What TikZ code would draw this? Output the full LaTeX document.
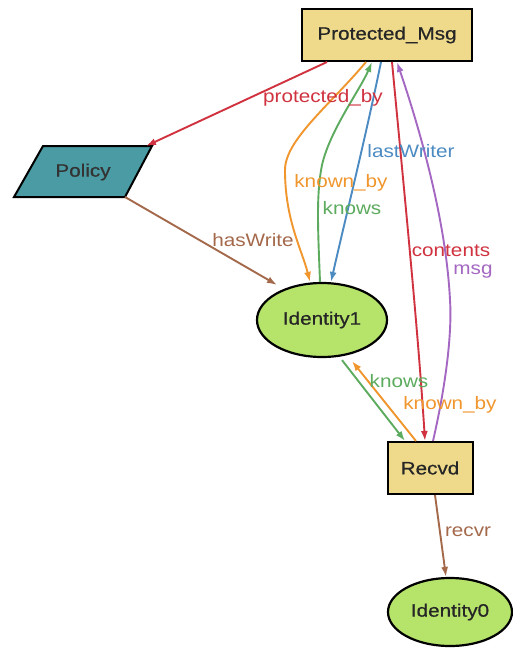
\documentclass[tikz,border=0pt]{standalone}
\usepackage{fontspec}
\setmainfont{Liberation Sans}[FakeStretch=1.15]
\newfontfamily\nodefont{Liberation Sans}[FakeStretch=1.15,FakeBold=0.6]
\usetikzlibrary{arrows.meta,shapes.geometric}
\definecolor{ered}{HTML}{D0323F}
\definecolor{eorange}{HTML}{F0962D}
\definecolor{egreen}{HTML}{5CAB5E}
\definecolor{eblue}{HTML}{4C8BC2}
\definecolor{epurple}{HTML}{A468C2}
\definecolor{ebrown}{HTML}{A4694B}
\definecolor{boxfill}{HTML}{EEDA8A}
\definecolor{polfill}{HTML}{4A9BA3}
\definecolor{idfill}{HTML}{B6E46B}
\tikzset{
  every node/.style={font=\fontsize{18}{20}\selectfont},
  nodetext/.style={font=\nodefont\fontsize{18}{20}\selectfont, text=black!85},
  recbox/.style={draw=black, line width=2pt, fill=boxfill, nodetext},
  idnode/.style={ellipse, draw=black, line width=2.2pt, fill=idfill, nodetext},
  edge/.style={line width=1.9pt, -{Latex[length=10pt,width=7pt]}},
  lbl/.style={inner sep=1pt}
}
\begin{document}
\begin{tikzpicture}[x=1pt,y=-1pt]
\useasboundingbox (0,0) rectangle (513,649);
\fill[white] (0,0) rectangle (513,649);

% nodes
\node[recbox, minimum width=170pt, minimum height=52pt] (pm) at (387,35) {Protected\_Msg};
\draw[line width=2pt, fill=polfill] (43,146) -- (152,146) -- (125,197) -- (14,197) -- cycle;
\node[nodetext, text=black!80] (policy) at (83,172) {Policy};
\coordinate (poltop) at (146,146);
\coordinate (polbot) at (125,197);
\node[idnode, minimum width=130pt, minimum height=74pt] (id1) at (322,320) {Identity1};
\node[recbox, minimum width=85pt, minimum height=52pt] (recvd) at (430,468) {Recvd};
\node[idnode, minimum width=124pt, minimum height=68pt] (id0) at (450,612) {Identity0};

% connectors
\draw[edge, ered] ([xshift=-60pt]pm.south) -- (poltop);
\draw[edge, ebrown] (polbot) -- ([xshift=-45pt,yshift=-3pt]id1.north);
\draw[edge, eorange] ([xshift=-21pt]pm.south) .. controls (330,105) and (285,140) .. (285,170)
   .. controls (285,220) and (302,250) .. ([xshift=-12pt]id1.north);
\draw[edge, egreen] ([xshift=-2pt]id1.north) .. controls (318,230) and (316,195) .. (322,165)
   .. controls (330,130) and (360,90) .. ([xshift=-15pt]pm.south);
\draw[edge, eblue] ([xshift=-6pt]pm.south) .. controls (365,140) and (345,220) .. ([xshift=9pt]id1.north);
\draw[edge, ered] ([xshift=5pt]pm.south) .. controls (405,200) and (418,330) .. ([xshift=-5pt]recvd.north);
\draw[edge, epurple] ([xshift=3pt]recvd.north) .. controls (447,380) and (452,330) .. (450,300)
   .. controls (446,220) and (420,130) .. ([xshift=10pt]pm.south);
\draw[edge, egreen] ([xshift=20pt,yshift=-2pt]id1.south) -- ([xshift=-25pt]recvd.north);
\draw[edge, eorange] ([xshift=-14pt]recvd.north) -- ([xshift=30pt,yshift=-3pt]id1.south);
\draw[edge, ebrown] ([xshift=5pt]recvd.south) -- ([xshift=-4pt]id0.north);

% labels
\node[lbl, text=ered] (l-prot) at (323,98) {protected\_by};
\node[lbl, text=ebrown] (l-hasw) at (253,240) {hasWrite};
\node[lbl, text=eorange] (l-kb1) at (341,183) {known\_by};
\node[lbl, text=egreen] (l-kn1) at (352,208) {knows};
\node[lbl, text=eblue] (l-lw) at (411,151) {lastWriter};
\node[lbl, text=ered] (l-cont) at (451,251) {contents};
\node[lbl, text=epurple] (l-msg) at (473,272) {msg};
\node[lbl, text=egreen] (l-kn2) at (399,381) {knows};
\node[lbl, text=eorange] (l-kb2) at (450,405) {known\_by};
\node[lbl, text=ebrown] (l-recvr) at (468,532) {recvr};
\end{tikzpicture}
\end{document}
